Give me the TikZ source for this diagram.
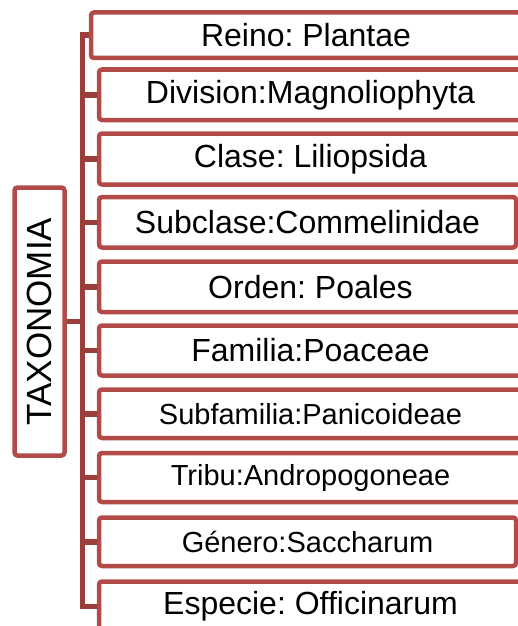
\documentclass[tikz,border=0pt]{standalone}
\usepackage{fontspec}
\setmainfont{Liberation Sans}
\frenchspacing
\definecolor{boxred}{RGB}{178,75,72}
\definecolor{connred}{RGB}{156,62,60}
\begin{document}
\begin{tikzpicture}[x=1pt,y=-1pt,
  taxbox/.style={draw=boxred, line width=4.5pt, rounded corners=3pt, fill=white,
    inner sep=0pt, align=center, text=black, font=\fontsize{32}{36}\selectfont},
  smalltxt/.style={font=\fontsize{29}{33}\selectfont},
  conn/.style={draw=connred, line width=5.5pt}]
\useasboundingbox (0,0) rectangle (518,626);
\clip (0,0) rectangle (518,626);
\fill[white] (0,0) rectangle (518,626);
% root
\node[taxbox, minimum width=50pt, minimum height=268pt, font=\fontsize{35}{40}\selectfont] (tax) at (39.5,321.5) {\rotatebox{90}{\raisebox{0pt}{TAXONOMIA}}};
% ranks
\node[taxbox, minimum width=430pt, minimum height=45.5pt] (b1) at (306,35.25) {Reino: Plantae};
\node[taxbox, minimum width=423pt, minimum height=50.5pt] (b2) at (310.5,94.75) {Division:Magnoliophyta};
\node[taxbox, minimum width=423pt, minimum height=51pt] (b3) at (310.5,159) {Clase: Liliopsida};
\node[taxbox, minimum width=417pt, minimum height=50.5pt] (b4) at (307.5,222.25) {Subclase:Commelinidae};
\node[taxbox, minimum width=423pt, minimum height=50.5pt] (b5) at (310.5,286.75) {Orden: Poales};
\node[taxbox, minimum width=423pt, minimum height=50pt] (b6) at (310.5,350.5) {Familia:Poaceae};
\node[taxbox, smalltxt, minimum width=423pt, minimum height=48.5pt] (b7) at (310.5,413.75) {Subfamilia:Panicoideae};
\node[taxbox, smalltxt, minimum width=423pt, minimum height=49pt] (b8) at (310.5,477.5) {Tribu:Andropogoneae};
\node[taxbox, smalltxt, minimum width=417pt, minimum height=48.5pt] (b9) at (307.5,541.75) {Género:Saccharum};
\node[taxbox, minimum width=423pt, minimum height=49.5pt] (b10) at (310.5,606.25) {Especie: Officinarum};
% connectors
\foreach \b in {b1,b2,b3,b4,b5,b6,b7,b8,b9,b10}{
  \draw[conn] (tax.east) -- ++(15.5,0) |- (\b.west);
}
\end{tikzpicture}
\end{document}
